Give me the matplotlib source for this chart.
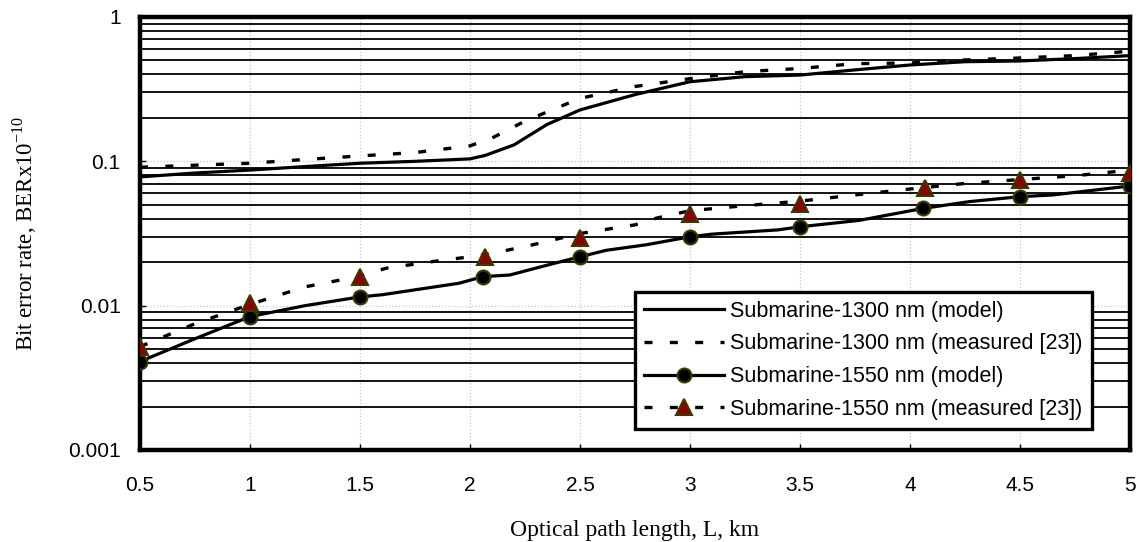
import numpy as np
import matplotlib.pyplot as plt
from matplotlib.ticker import FixedLocator, FuncFormatter, LogLocator, NullFormatter

# Submarine 1300 nm, model (solid line)
L_1300_model = [0.5, 0.75, 1.0, 1.25, 1.5, 1.75, 2.0, 2.07, 2.2, 2.35, 2.5,
                2.75, 3.0, 3.25, 3.5, 3.75, 4.0, 4.25, 4.5, 4.75, 5.0]
ber_1300_model = [0.078, 0.083, 0.087, 0.092, 0.097, 0.100, 0.104, 0.110, 0.130, 0.180, 0.227,
                  0.290, 0.356, 0.386, 0.396, 0.430, 0.465, 0.490, 0.496, 0.515, 0.540]

# Submarine 1300 nm, measured [23] (dashed line)
L_1300_meas = [0.5, 0.75, 1.0, 1.25, 1.5, 1.75, 2.0, 2.1, 2.25, 2.5,
               2.75, 3.0, 3.25, 3.5, 3.75, 4.0, 4.25, 4.5, 4.75, 5.0]
ber_1300_meas = [0.091, 0.094, 0.097, 0.103, 0.109, 0.115, 0.128, 0.145, 0.190, 0.273,
                 0.330, 0.374, 0.418, 0.440, 0.475, 0.480, 0.504, 0.520, 0.540, 0.580]

# Submarine 1550 nm, model (solid line + circles)
L_1550_model = [0.5, 0.75, 1.0, 1.25, 1.5, 1.6, 1.95, 2.06, 2.18, 2.38, 2.5, 2.62,
                2.8, 3.0, 3.1, 3.4, 3.5, 3.77, 4.06, 4.27, 4.5, 4.65, 5.0]
ber_1550_model = [0.0041, 0.0059, 0.0084, 0.0100, 0.0115, 0.0119, 0.0143, 0.0159, 0.0163, 0.0196,
                  0.0218, 0.0242, 0.0264, 0.0300, 0.0313, 0.0335, 0.0352, 0.0390, 0.0472, 0.0526,
                  0.0569, 0.0585, 0.0675]
L_1550_model_pts = [0.5, 1.0, 1.5, 2.06, 2.5, 3.0, 3.5, 4.06, 4.5, 5.0]
ber_1550_model_pts = [0.0041, 0.0084, 0.0115, 0.0159, 0.0218, 0.0300, 0.0352, 0.0472, 0.0569, 0.0675]

# Submarine 1550 nm, measured [23] (dashed line + triangles)
L_1550_meas = [0.5, 0.75, 1.0, 1.25, 1.5, 1.62, 1.85, 2.07, 2.28, 2.5, 2.62, 2.75,
               2.85, 3.0, 3.25, 3.5, 3.75, 4.0, 4.25, 4.5, 4.75, 5.0]
ber_1550_meas = [0.0052, 0.0075, 0.0102, 0.0135, 0.0160, 0.0182, 0.0204, 0.0225, 0.0263, 0.0316,
                 0.0338, 0.0363, 0.0405, 0.0455, 0.0493, 0.0530, 0.0585, 0.0643, 0.0703, 0.0748,
                 0.0794, 0.0870]
L_1550_meas_pts = [0.5, 1.0, 1.5, 2.07, 2.5, 3.0, 3.5, 4.07, 4.5, 5.0]
ber_1550_meas_pts = [0.0052, 0.0104, 0.0159, 0.0218, 0.0293, 0.0429, 0.0506, 0.0656, 0.0742, 0.0834]

x_ticks = [0.5, 1, 1.5, 2, 2.5, 3, 3.5, 4, 4.5, 5]
y_ticks = [0.001, 0.01, 0.1, 1]

dash = (2.4, 5.2)
edge = '#3a3a00'

fig = plt.figure(figsize=(11.39, 5.42), dpi=100)
ax = fig.add_axes([140 / 1139, 1 - 450 / 542, 990 / 1139, 433 / 542])

l1, = ax.plot(L_1300_model, ber_1300_model, color='black', lw=2.3, zorder=3)
l2, = ax.plot(L_1300_meas, ber_1300_meas, color='black', lw=2.4, ls=(0, dash), zorder=3)
l3, = ax.plot(L_1550_model, ber_1550_model, color='black', lw=2.3, zorder=3)
m3, = ax.plot(L_1550_model_pts, ber_1550_model_pts, ls='none', marker='o', ms=10,
              mfc='black', mec=edge, mew=1.5, zorder=4)
l4, = ax.plot(L_1550_meas, ber_1550_meas, color='black', lw=2.4, ls=(0, dash), zorder=3)
m4, = ax.plot(L_1550_meas_pts, ber_1550_meas_pts, ls='none', marker='^', ms=12,
              mfc='#8b0000', mec=edge, mew=1.5, zorder=5)

ax.set_yscale('log')
ax.set_xlim(0.5, 5)
ax.set_ylim(0.001, 1)

ax.xaxis.set_major_locator(FixedLocator(x_ticks))
ax.xaxis.set_major_formatter(FuncFormatter(lambda v, p: '%g' % v))
ax.yaxis.set_major_locator(FixedLocator(y_ticks))
ax.yaxis.set_major_formatter(FuncFormatter(lambda v, p: '%g' % v))
ax.yaxis.set_minor_locator(LogLocator(base=10, subs=np.arange(2, 10)))
ax.yaxis.set_minor_formatter(NullFormatter())

ax.set_axisbelow(True)
ax.grid(True, which='major', axis='both', color='#c8c8c8', ls=':', lw=0.9)
ax.grid(True, which='minor', axis='y', color='black', ls='-', lw=1.3)

ax.tick_params(which='major', direction='in', length=4, width=1, labelsize=15)
ax.tick_params(axis='x', pad=19)
ax.tick_params(axis='y', pad=14)
ax.tick_params(which='minor', length=0)
for lab in ax.get_xticklabels() + ax.get_yticklabels():
    lab.set_family('Liberation Sans')

for sp in ax.spines.values():
    sp.set_linewidth(3.2)

ax.set_xlabel('Optical path length, L, km', family='Liberation Serif',
              fontsize=17, labelpad=18)
ax.set_ylabel(r'Bit error rate, BERx10$^{\mathregular{-10}}$', family='Liberation Serif',
              fontsize=16.5, labelpad=21)

leg = ax.legend([l1, l2, (l3, m3), (l4, m4)],
                ['Submarine-1300 nm (model)', 'Submarine-1300 nm (measured [23])',
                 'Submarine-1550 nm (model)', 'Submarine-1550 nm (measured [23])'],
                loc='lower right', bbox_to_anchor=(0.9616, 0.0485), borderaxespad=0,
                fancybox=False, framealpha=1, edgecolor='black', numpoints=1,
                handlelength=3.7, handletextpad=0.3, labelspacing=0.54, borderpad=0.43,
                prop={'family': 'Liberation Sans', 'size': 15.5})
leg.get_frame().set_linewidth(2.4)
leg.set_zorder(10)

fig.savefig('out.png', dpi=100)
